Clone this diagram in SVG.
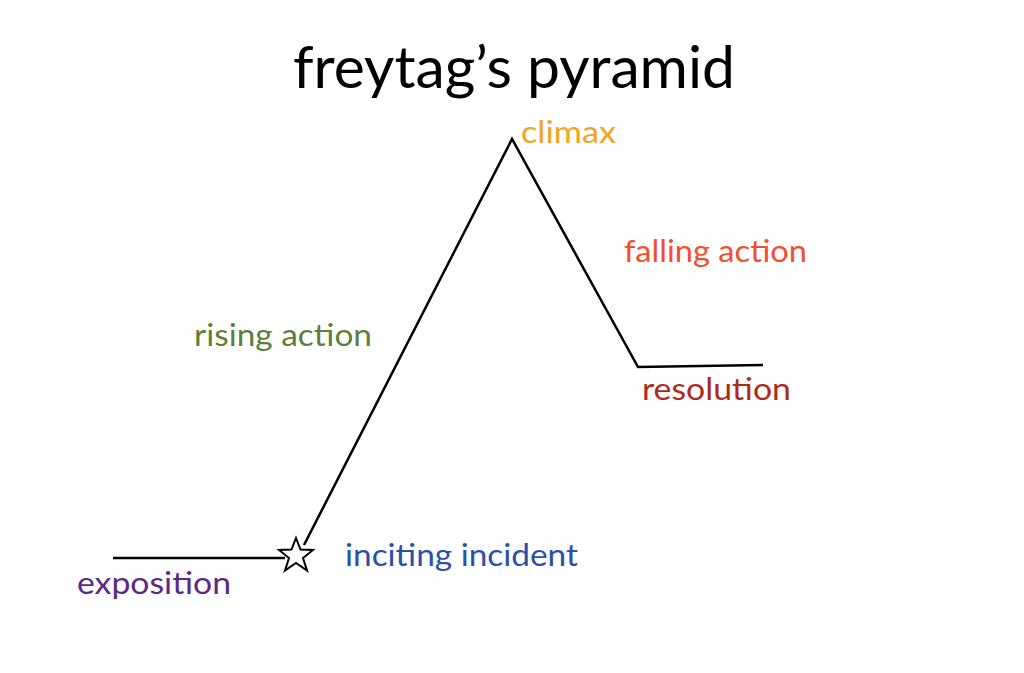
<svg xmlns="http://www.w3.org/2000/svg" width="1024" height="673" viewBox="0 0 1024 673">
<style>
text{font-family:Lato,"Open Sans",sans-serif}
.l{font-size:31px}
.ln{fill:none;stroke:#000;stroke-width:2.5}
</style>
<rect width="1024" height="673" fill="#fff"/>
<g id="connectors">
<polyline class="ln" points="113,558 285,558"/>
<polyline class="ln" points="304,545 512,139 638,367 763,365"/>
</g>
<g id="star"><polygon points="296,538 300.5,549.5 313,550 303,558 307,570.5 296,563 285,570.5 289,558 279,550 291.5,549.5" fill="#fff" stroke="#000" stroke-width="2"/></g>
<text x="293" y="88" font-size="58" textLength="442" lengthAdjust="spacingAndGlyphs" fill="#000">freytag’s pyramid</text>
<g id="climax"><text class="l" x="521" y="143" textLength="95" lengthAdjust="spacingAndGlyphs" fill="#f0a61e">climax</text></g>
<g id="falling"><text class="l" x="624" y="262" textLength="183" lengthAdjust="spacingAndGlyphs" fill="#f2502d">falling action</text></g>
<g id="rising"><text class="l" x="194" y="346" textLength="178" lengthAdjust="spacingAndGlyphs" fill="#5e7f3a">rising action</text></g>
<g id="resolution"><text class="l" x="642" y="400" textLength="149" lengthAdjust="spacingAndGlyphs" fill="#b02a1a">resolution</text></g>
<g id="inciting"><text class="l" x="345" y="566" textLength="233" lengthAdjust="spacingAndGlyphs" fill="#2a50a8">inciting incident</text></g>
<g id="exposition"><text class="l" x="77" y="594" textLength="154" lengthAdjust="spacingAndGlyphs" fill="#5b2a86">exposition</text></g>
</svg>
